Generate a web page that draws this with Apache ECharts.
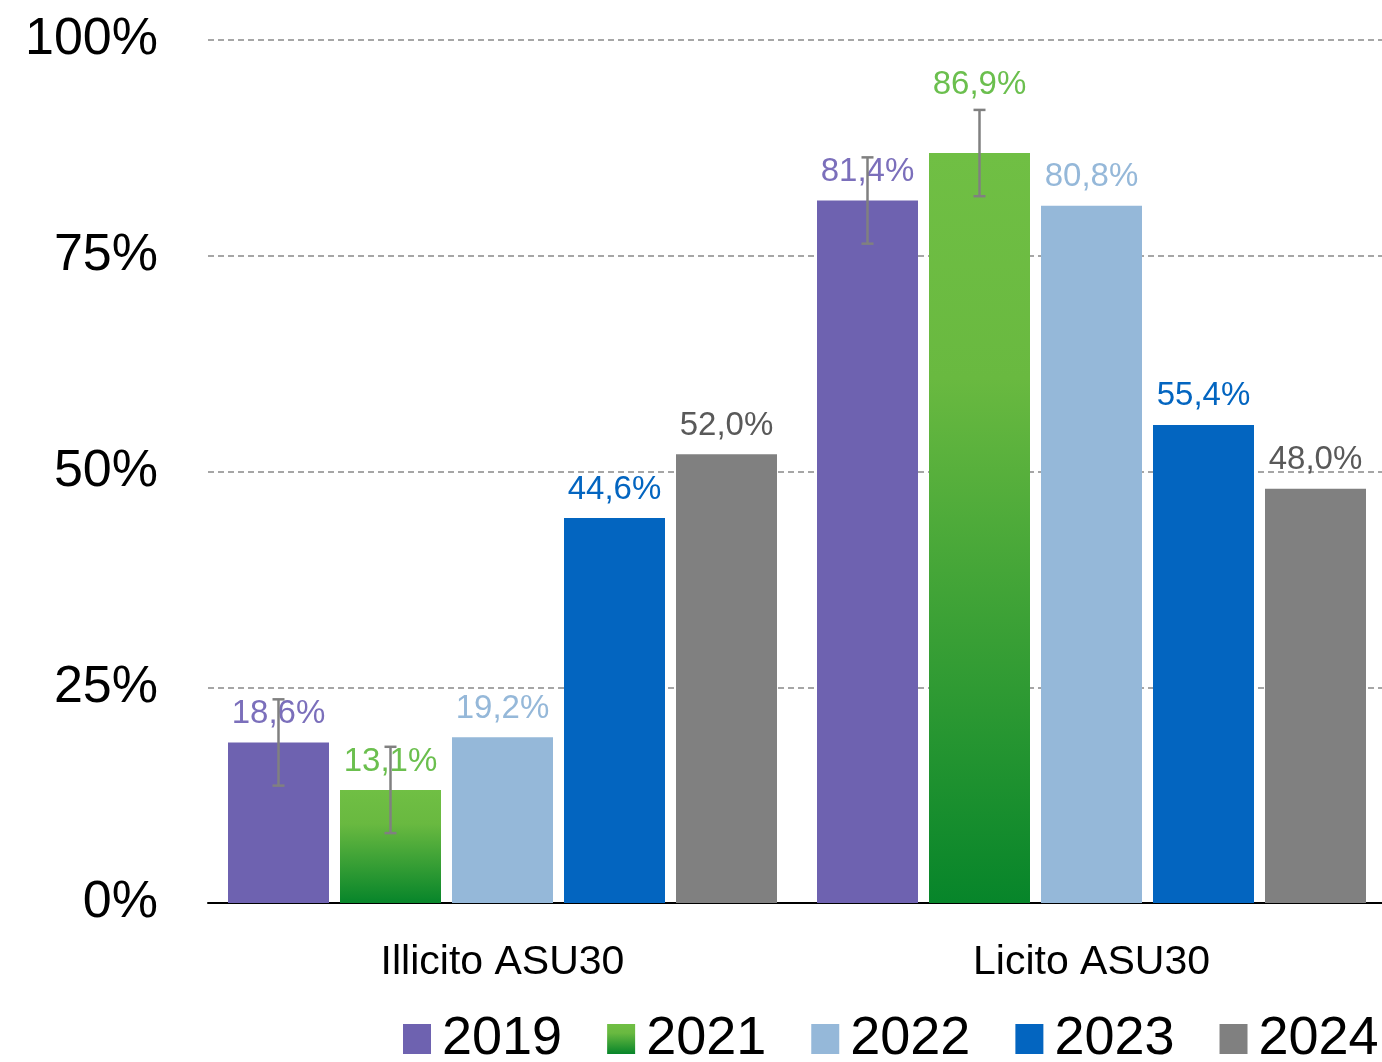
<!DOCTYPE html>
<html>
<head>
<meta charset="utf-8">
<script src="https://cdn.jsdelivr.net/npm/echarts@6/dist/echarts.min.js"></script>
<style>
  html, body { margin: 0; padding: 0; background: #fff; }
  #chart { width: 1382px; height: 1062px; }
</style>
</head>
<body>
<div id="chart"></div>
<script>
var categories = ['Illicito ASU30', 'Licito ASU30'];
var years = ['2019', '2021', '2022', '2023', '2024'];
var values2019 = [18.6, 81.4];
var values2021 = [13.1, 86.9];
var values2022 = [19.2, 80.8];
var values2023 = [44.6, 55.4];
var values2024 = [52.0, 48.0];
var errors2019 = [5, 5];
var errors2021 = [5, 5];
var yTicks = [0, 25, 50, 75, 100];

var barColors = [
    '#6E62B0',
    {type: 'linear', x: 0, y: 0, x2: 0, y2: 1, colorStops: [
        {offset: 0, color: '#70BF44'}, {offset: 0.3, color: '#69B940'}, {offset: 1, color: '#07852A'}]},
    '#95B8D9',
    '#0365C0',
    '#808080'
];
var labelColors = ['#7B6FBB', '#6BBF4E', '#95B8D9', '#0365C0', '#595959'];
var allValues = [values2019, values2021, values2022, values2023, values2024];

var barWidth = 101;
var barSpace = 112;

function fmt(v) {
    return v.toFixed(1).replace('.', ',') + '%';
}

function errorSeries(idx, vals, errs) {
    return {
        type: 'custom',
        name: 'err' + idx,
        z: 10,
        silent: true,
        data: vals.map(function (v, i) { return [i, v - errs[i], v + errs[i]]; }),
        renderItem: function (params, api) {
            var lo = api.coord([api.value(0), api.value(1)]);
            var hi = api.coord([api.value(0), api.value(2)]);
            var x = lo[0] - (barSpace * 4 + barWidth) / 2 + barWidth / 2 + idx * barSpace;
            var style = {stroke: '#808080', lineWidth: 2.5};
            return {
                type: 'group',
                children: [
                    {type: 'line', shape: {x1: x, y1: lo[1], x2: x, y2: hi[1]}, style: style},
                    {type: 'line', shape: {x1: x - 6, y1: lo[1], x2: x + 6, y2: lo[1]}, style: style},
                    {type: 'line', shape: {x1: x - 6, y1: hi[1], x2: x + 6, y2: hi[1]}, style: style}
                ]
            };
        }
    };
}

var series = [];
for (var i = 0; i < years.length; i++) {
    var data = allValues[i].map(function (v) { return {value: v}; });
    series.push({
        name: years[i],
        type: 'bar',
        data: data,
        barWidth: barWidth,
        barGap: ((barSpace - barWidth) / barWidth * 100) + '%',
        itemStyle: {color: barColors[i]},
        label: {
            show: true,
            position: 'top',
            distance: 12,
            fontSize: 33,
            fontFamily: 'Liberation Sans, Arial, sans-serif',
            color: labelColors[i],
            formatter: function (p) { return fmt(p.value); }
        }
    });
}
// the 2021 label on the second group sits above its error bar
series[1].data[1].label = {distance: 52};
series.push(errorSeries(0, values2019, errors2019));
series.push(errorSeries(1, values2021, errors2021));

var option = {
    animation: false,
    grid: {left: 208, right: -4, top: 40, bottom: 159, containLabel: false, outerBoundsMode: 'none'},
    legend: {
        data: years,
        left: 403,
        width: 1200,
        bottom: -4,
        padding: 0,
        itemWidth: 28,
        itemHeight: 30,
        itemGap: 45,
        icon: 'rect',
        textStyle: {fontSize: 54, color: '#000', fontFamily: 'Liberation Sans, Arial, sans-serif', padding: [0, 0, 0, 6]}
    },
    xAxis: {
        type: 'category',
        data: categories,
        axisLine: {lineStyle: {color: '#000', width: 2}},
        axisTick: {show: false},
        axisLabel: {fontSize: 41, color: '#000', margin: 39, fontFamily: 'Liberation Sans, Arial, sans-serif'}
    },
    yAxis: {
        type: 'value',
        min: yTicks[0],
        max: yTicks[yTicks.length - 1],
        interval: 25,
        axisLine: {show: false},
        axisTick: {show: false},
        axisLabel: {fontSize: 52, color: '#000', margin: 50, fontFamily: 'Liberation Sans, Arial, sans-serif',
            formatter: '{value}%'},
        splitLine: {lineStyle: {color: '#A6A6A6', width: 2, type: [6, 4]}}
    },
    series: series
};

var myChart = echarts.init(document.getElementById('chart'));
myChart.setOption(option);
</script>
</body>
</html>
